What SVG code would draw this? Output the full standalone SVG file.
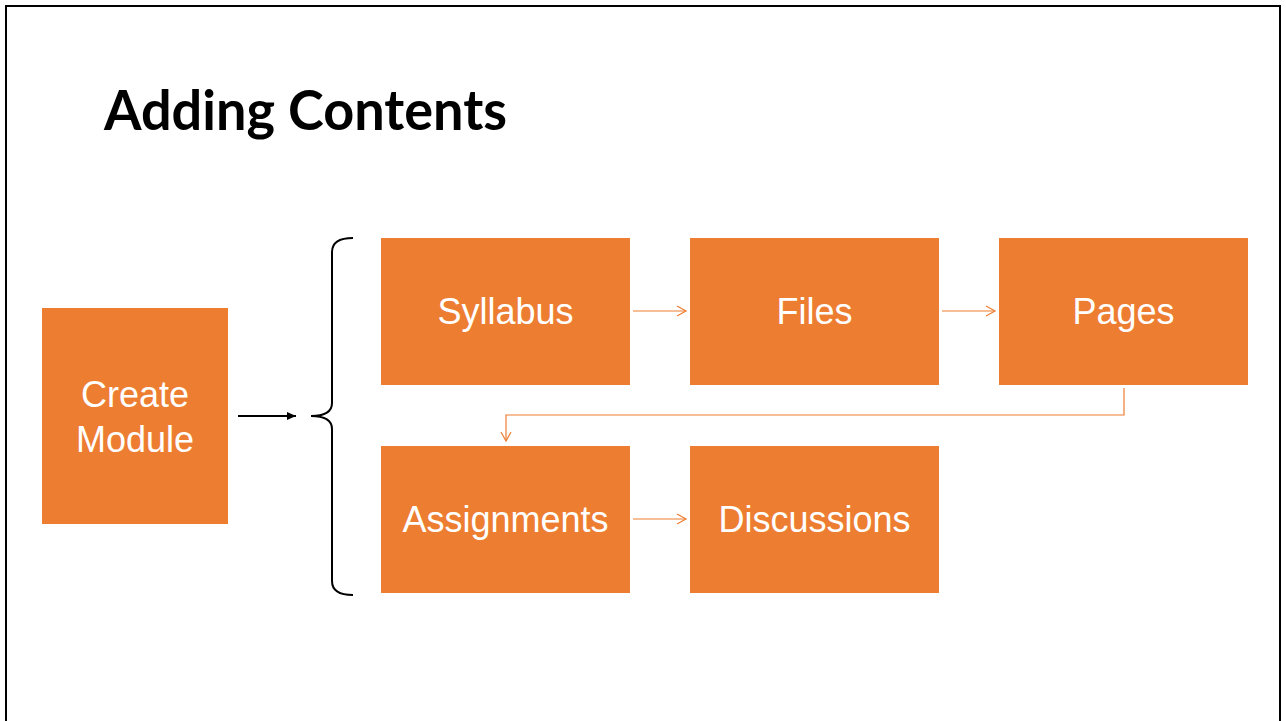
<svg xmlns="http://www.w3.org/2000/svg" width="1286" height="721" viewBox="0 0 1286 721">
<style>
.box{fill:#ED7D31}
.lbl{font-family:"Liberation Sans",Arial,sans-serif;font-size:36px;fill:#fff;text-anchor:middle}
.oc2{fill:none;stroke:#ED7D31;stroke-width:1.2}
</style>
<defs>
<marker id="oa" markerWidth="12" markerHeight="12" refX="10" refY="6" orient="auto" markerUnits="userSpaceOnUse">
<path d="M1,1 L10,6 L1,11" fill="none" stroke="#ED7D31" stroke-width="1.2"/>
</marker>
<marker id="ba" markerWidth="10" markerHeight="10" refX="9" refY="5" orient="auto" markerUnits="userSpaceOnUse">
<path d="M0,1 L9,5 L0,9 Z" fill="#000"/>
</marker>
</defs>
<rect x="0" y="0" width="1286" height="721" fill="#fff"/>
<path d="M6,721 L6,6 L1280,6 L1280,721" fill="none" stroke="#000" stroke-width="2"/>
<text x="104" y="130" font-family="Lato,'Open Sans','Liberation Sans',sans-serif" font-weight="bold" font-size="56" textLength="403" lengthAdjust="spacingAndGlyphs">Adding Contents</text>
<g id="connectors">
<line x1="238" y1="416" x2="296" y2="416" stroke="#000" stroke-width="2" marker-end="url(#ba)"/>
<path d="M353,238 Q332,238 332,252 L332,403 Q332,416 311,416 Q332,416 332,429 L332,581 Q332,595 353,595" fill="none" stroke="#000" stroke-width="2"/>
<line class="oc2" x1="633" y1="311" x2="686" y2="311" marker-end="url(#oa)"/>
<line class="oc2" x1="942" y1="311" x2="995" y2="311" marker-end="url(#oa)"/>
<path class="oc2" d="M1124,388 L1124,415 L506,415 L506,441" marker-end="url(#oa)"/>
<line class="oc2" x1="633" y1="519" x2="686" y2="519" marker-end="url(#oa)"/>
</g>
<g id="create-module"><rect class="box" x="42" y="308" width="186" height="216"/><text class="lbl" x="135" y="407">Create</text><text class="lbl" x="135" y="452">Module</text></g>
<g id="syllabus"><rect class="box" x="381" y="238" width="249" height="147"/><text class="lbl" x="505.5" y="324">Syllabus</text></g>
<g id="files"><rect class="box" x="690" y="238" width="249" height="147"/><text class="lbl" x="814.5" y="324">Files</text></g>
<g id="pages"><rect class="box" x="999" y="238" width="249" height="147"/><text class="lbl" x="1123.5" y="324">Pages</text></g>
<g id="assignments"><rect class="box" x="381" y="446" width="249" height="147"/><text class="lbl" x="505.5" y="532">Assignments</text></g>
<g id="discussions"><rect class="box" x="690" y="446" width="249" height="147"/><text class="lbl" x="814.5" y="532">Discussions</text></g>
</svg>
